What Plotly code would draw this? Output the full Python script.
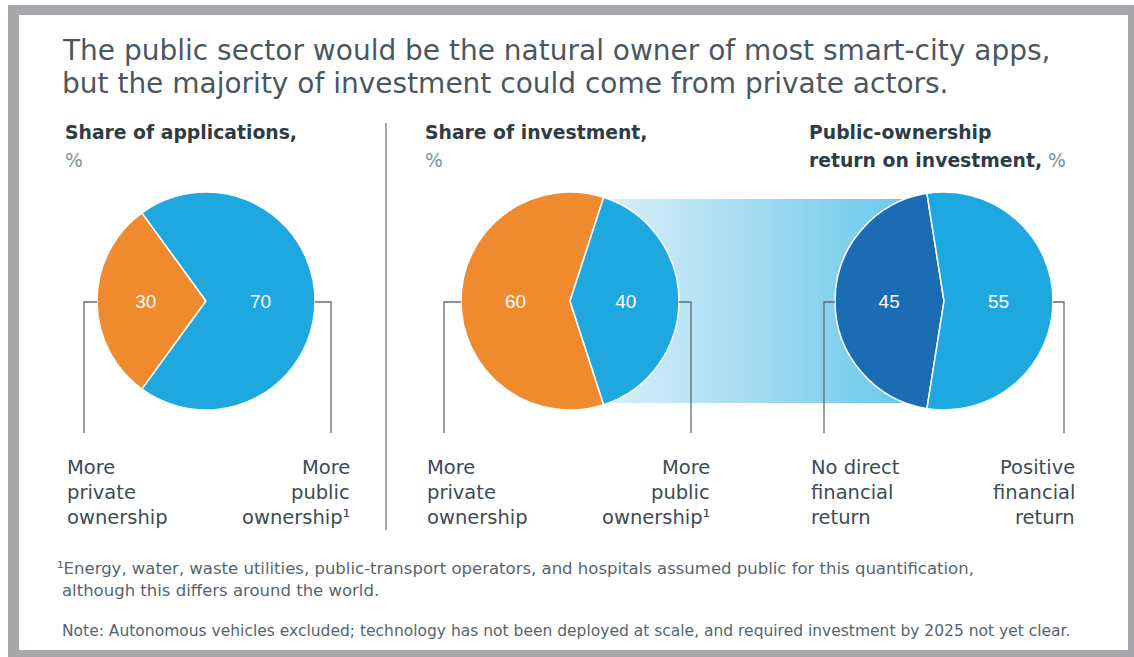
import plotly.graph_objects as go

W, H = 1134, 657

# ---------------- data ----------------
app_labels = ["More private ownership", "More public ownership"]
app_share = [30, 70]

inv_labels = ["More private ownership", "More public ownership"]
inv_share = [60, 40]

roi_labels = ["No direct financial return", "Positive financial return"]
roi_share = [45, 55]

app_left_text = ["More", "private", "ownership"]
app_right_text = ["More", "public", "ownership¹"]
inv_left_text = ["More", "private", "ownership"]
inv_right_text = ["More", "public", "ownership¹"]
roi_left_text = ["No direct", "financial", "return"]
roi_right_text = ["Positive", "financial", "return"]

title_lines = [
    "The public sector would be the natural owner of most smart-city apps,",
    "but the majority of investment could come from private actors.",
]
footnote_lines = [
    "¹Energy, water, waste utilities, public-transport operators, and hospitals assumed public for this quantification,",
    "although this differs around the world.",
]
note_line = ("Note: Autonomous vehicles excluded; technology has not been deployed at scale, "
             "and required investment by 2025 not yet clear.")

# ---------------- style ----------------
ORANGE = "#F08A2E"
BLUE = "#1FA8DF"
NAVY = "#1B6CB3"
FRAME = "#A7A8AC"
TITLE_C = "#4A5761"
HEAD_C = "#2E3C44"
PCT_C = "#7D8F98"
LABEL_C = "#3D4B53"
RULE_C = "#5D6D75"
FOOT_C = "#56656D"
FONT = "DejaVu Sans, Liberation Sans, Arial, sans-serif"
NUM_FONT = "Liberation Sans, Arial, sans-serif"

PIE_Y = 301      # vertical centre of all pies (px from top)
R = 109          # pie radius (px)
BRACKET_END = 433
LINE_Y = [467, 492, 517]

panels = [
    dict(cx=206, values=app_share, labels=app_labels, colors=[ORANGE, BLUE],
         lx=84, rx=331, tl=65, tr=352, left=app_left_text, right=app_right_text),
    dict(cx=570, values=inv_share, labels=inv_labels, colors=[ORANGE, BLUE],
         lx=444, rx=691, tl=425, tr=712, left=inv_left_text, right=inv_right_text),
    dict(cx=944, values=roi_share, labels=roi_labels, colors=[NAVY, BLUE],
         lx=824, rx=1064, tl=809, tr=1077, left=roi_left_text, right=roi_right_text),
]

fig = go.Figure()

# gradient band linking the public share of investment to its return profile
band_x0, band_x1 = panels[1]["cx"], panels[2]["cx"]
band_y0, band_y1 = 199, 403
fig.add_trace(go.Scatter(
    x=[band_x0, band_x1, band_x1, band_x0, band_x0],
    y=[band_y0, band_y0, band_y1, band_y1, band_y0],
    mode="lines", line=dict(width=0), fill="toself",
    fillgradient=dict(type="horizontal",
                      colorscale=[[0, "#E6F4FB"], [0.45, "#A9DDF2"], [1, "#5CC4EA"]]),
    hoverinfo="skip", showlegend=False,
))

# pies: first slice centred on 9 o'clock
for p in panels:
    first = p["values"][0] / sum(p["values"]) * 360
    fig.add_trace(go.Pie(
        values=p["values"], labels=p["labels"], sort=False,
        direction="clockwise", rotation=270 - first / 2,
        marker=dict(colors=p["colors"], line=dict(color="#FFFFFF", width=1.5)),
        textinfo="value", textposition="inside", insidetextorientation="horizontal",
        textfont=dict(family=NUM_FONT, size=19, color="#FFFFFF"),
        domain=dict(x=[(p["cx"] - R) / W, (p["cx"] + R) / W],
                    y=[1 - (PIE_Y + R) / H, 1 - (PIE_Y - R) / H]),
        showlegend=False, hoverinfo="label+value",
    ))

shapes = [
    dict(type="rect", x0=8, x1=1134, y0=5, y1=657, fillcolor=FRAME, line=dict(width=0), layer="below"),
    dict(type="rect", x0=19, x1=1128, y0=15, y1=650, fillcolor="#FFFFFF", line=dict(width=0), layer="below"),
    dict(type="line", x0=386, x1=386, y0=123, y1=530, line=dict(color=RULE_C, width=1.2)),
]
annotations = []

def text(x, y, s, size, color, anchor="left", bold=False):
    if bold:
        s = f"<b>{s}</b>"
    annotations.append(dict(x=x, y=y, text=s, showarrow=False, xanchor=anchor, yanchor="middle",
                            font=dict(family=FONT, size=size, color=color)))

for p in panels:
    cx = p["cx"]
    shapes.append(dict(type="path", path=f"M{cx - R},{PIE_Y + 1} H{p['lx']} V{BRACKET_END}",
                       line=dict(color=RULE_C, width=1.3)))
    shapes.append(dict(type="path", path=f"M{cx + R},{PIE_Y + 1} H{p['rx']} V{BRACKET_END}",
                       line=dict(color=RULE_C, width=1.3)))
    for y, s in zip(LINE_Y, p["left"]):
        text(p["tl"], y, s, 19.5, LABEL_C, "left")
    for y, s in zip(LINE_Y, p["right"]):
        text(p["tr"], y, s, 19.5, LABEL_C, "right")

# title
text(60, 50, title_lines[0], 28, TITLE_C)
text(60, 83, title_lines[1], 28, TITLE_C)

# panel headers
text(63, 132, "Share of applications,", 18.8, HEAD_C, bold=True)
text(63, 160, "%", 18.8, PCT_C)
text(423, 132, "Share of investment,", 18.8, HEAD_C, bold=True)
text(423, 160, "%", 18.8, PCT_C)
text(807, 132, "Public-ownership", 18.8, HEAD_C, bold=True)
text(807, 160, f"<b>return on investment,</b> <span style='color:{PCT_C}'>%</span>", 18.8, HEAD_C)

# footnotes
text(55, 568, footnote_lines[0], 16.5, FOOT_C)
text(60, 590, footnote_lines[1], 16.5, FOOT_C)
text(60, 631, note_line, 15.5, FOOT_C)

fig.update_layout(
    width=W, height=H,
    margin=dict(l=0, r=0, t=0, b=0),
    paper_bgcolor="#FFFFFF", plot_bgcolor="rgba(0,0,0,0)",
    xaxis=dict(range=[0, W], visible=False, fixedrange=True),
    yaxis=dict(range=[H, 0], visible=False, fixedrange=True),
    shapes=shapes, annotations=annotations,
)

fig.write_html("out.html")
